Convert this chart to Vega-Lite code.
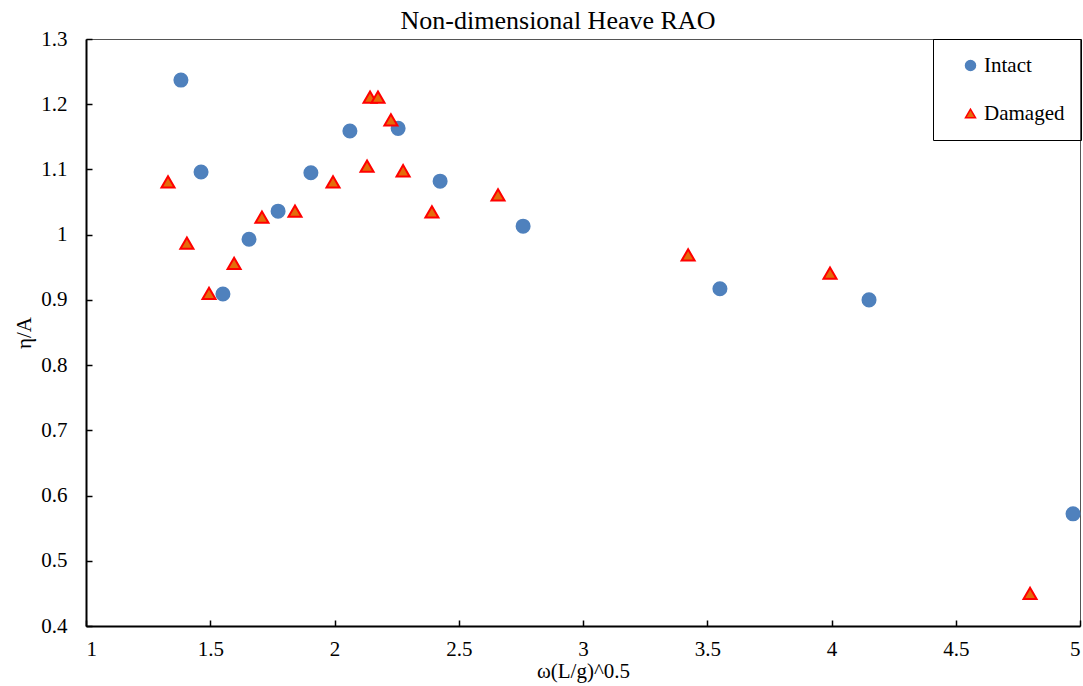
{
  "$schema": "https://vega.github.io/schema/vega-lite/v6.json",
  "width": 994,
  "height": 587,
  "autosize": {"type": "none"},
  "padding": {"left": 86, "top": 39, "right": 3, "bottom": 60},
  "background": "white",
  "title": {
    "text": "Non-dimensional Heave RAO",
    "font": "Liberation Serif",
    "fontSize": 26,
    "fontWeight": "normal",
    "color": "black",
    "offset": -6,
    "dx": -25
  },
  "config": {
    "view": {"stroke": "#555", "strokeWidth": 1},
    "axis": {
      "labelFont": "Liberation Serif",
      "titleFont": "Liberation Serif",
      "labelFontSize": 21,
      "titleFontSize": 21,
      "titleFontWeight": "normal",
      "labelColor": "black",
      "titleColor": "black",
      "domainColor": "black",
      "domainWidth": 2,
      "tickColor": "black",
      "tickWidth": 1.5,
      "grid": false
    },
    "legend": {
      "orient": "none",
      "legendX": 847,
      "legendY": 0,
      "strokeColor": "black",
      "padding": 16,
      "symbolOffset": 11,
      "symbolSize": 100,
      "labelFont": "Liberation Serif",
      "labelFontSize": 21,
      "labelColor": "black",
      "rowPadding": 26,
      "labelOffset": 3
    }
  },
  "data": {
    "values": [
      {"x": 1.382, "y": 1.237, "series": "Intact"},
      {"x": 1.463, "y": 1.096, "series": "Intact"},
      {"x": 1.551, "y": 0.909, "series": "Intact"},
      {"x": 1.656, "y": 0.993, "series": "Intact"},
      {"x": 1.773, "y": 1.036, "series": "Intact"},
      {"x": 1.905, "y": 1.095, "series": "Intact"},
      {"x": 2.062, "y": 1.159, "series": "Intact"},
      {"x": 2.256, "y": 1.163, "series": "Intact"},
      {"x": 2.425, "y": 1.082, "series": "Intact"},
      {"x": 2.759, "y": 1.013, "series": "Intact"},
      {"x": 3.551, "y": 0.917, "series": "Intact"},
      {"x": 4.151, "y": 0.900, "series": "Intact"},
      {"x": 4.972, "y": 0.572, "series": "Intact"},
      {"x": 1.330, "y": 1.081, "series": "Damaged"},
      {"x": 1.406, "y": 0.987, "series": "Damaged"},
      {"x": 1.495, "y": 0.910, "series": "Damaged"},
      {"x": 1.596, "y": 0.956, "series": "Damaged"},
      {"x": 1.708, "y": 1.027, "series": "Damaged"},
      {"x": 1.841, "y": 1.036, "series": "Damaged"},
      {"x": 1.994, "y": 1.081, "series": "Damaged"},
      {"x": 2.131, "y": 1.105, "series": "Damaged"},
      {"x": 2.143, "y": 1.211, "series": "Damaged"},
      {"x": 2.175, "y": 1.211, "series": "Damaged"},
      {"x": 2.227, "y": 1.176, "series": "Damaged"},
      {"x": 2.276, "y": 1.098, "series": "Damaged"},
      {"x": 2.392, "y": 1.035, "series": "Damaged"},
      {"x": 2.658, "y": 1.061, "series": "Damaged"},
      {"x": 3.423, "y": 0.969, "series": "Damaged"},
      {"x": 3.994, "y": 0.941, "series": "Damaged"},
      {"x": 4.799, "y": 0.450, "series": "Damaged"}
    ]
  },
  "mark": {"type": "point", "filled": true, "size": 170, "strokeWidth": 2, "opacity": 1},
  "encoding": {
    "x": {
      "field": "x",
      "type": "quantitative",
      "scale": {"domain": [1, 5], "nice": false, "zero": false},
      "axis": {"title": "ω(L/g)^0.5", "values": [1, 1.5, 2, 2.5, 3, 3.5, 4, 4.5, 5], "format": "~f", "tickSize": -6, "labelPadding": 18, "titlePadding": 1}
    },
    "y": {
      "field": "y",
      "type": "quantitative",
      "scale": {"domain": [0.4, 1.3], "nice": false, "zero": false},
      "axis": {"title": "η/A", "values": [0.4, 0.5, 0.6, 0.7, 0.8, 0.9, 1, 1.1, 1.2, 1.3], "format": "~f", "tickSize": -6, "labelPadding": 25, "titlePadding": 6}
    },
    "shape": {
      "field": "series",
      "type": "nominal",
      "scale": {"domain": ["Intact", "Damaged"], "range": ["circle", "triangle-up"]},
      "legend": {"title": null, "encode": {"legend": {"update": {"strokeWidth": {"value": 2}}}}}
    },
    "fill": {
      "field": "series",
      "type": "nominal",
      "scale": {"domain": ["Intact", "Damaged"], "range": ["#4F81BD", "#E46C0A"]},
      "legend": {"title": null, "encode": {"legend": {"update": {"strokeWidth": {"value": 2}}}}}
    },
    "stroke": {
      "field": "series",
      "type": "nominal",
      "scale": {"domain": ["Intact", "Damaged"], "range": ["#4F81BD", "#FF0000"]},
      "legend": {"title": null, "encode": {"legend": {"update": {"strokeWidth": {"value": 2}}}}}
    }
  }
}
